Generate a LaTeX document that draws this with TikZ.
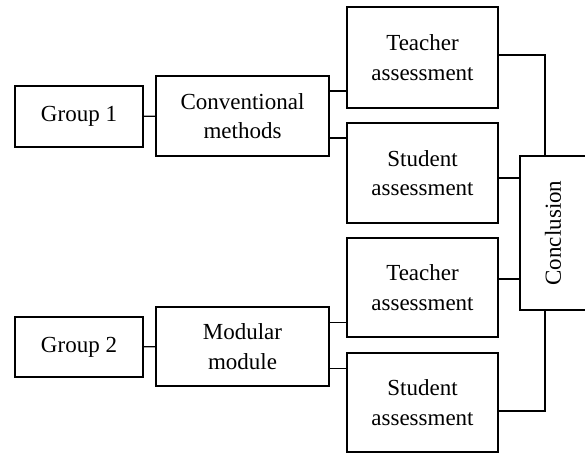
\documentclass[tikz,border=0pt]{standalone}
\usepackage{fontspec}
\setmainfont{Liberation Serif}
\begin{document}
\begin{tikzpicture}[x=1pt,y=1pt,
  box/.style={draw,line width=1.3pt,inner sep=0pt,align=center,
    font=\fontsize{23}{29.5}\selectfont},
  conn/.style={line width=1.3pt}]
\useasboundingbox (0,0) rectangle (585,454);
\node[box,minimum width=128,minimum height=61] (g1) at (79,337.5) {Group 1};
\node[box,minimum width=173,minimum height=80] (c1) at (242.5,338) {Conventional\\methods};
\node[box,minimum width=151,minimum height=101] (t1) at (422.5,396.5) {Teacher\\assessment};
\node[box,minimum width=151,minimum height=100] (s1) at (422.5,281) {Student\\assessment};
\node[box,minimum width=151,minimum height=99] (t2) at (422.5,166.5) {Teacher\\assessment};
\node[box,minimum width=151,minimum height=99] (s2) at (422.5,51.5) {Student\\assessment};
\node[box,minimum width=128,minimum height=60] (g2) at (79,107) {Group 2};
\node[box,minimum width=173,minimum height=79] (m2) at (242.5,107.5) {Modular\\module};
\node[box,minimum width=154,minimum height=66,rotate=90] (cc) at (553,221) {Conclusion};
\coordinate (j) at (545,0);
\draw[conn] (g1) -- (c1);
\draw[conn] (g2) -- (m2);
\draw[conn] ([yshift=25]c1.east) -- ([yshift=25]c1.east -| t1.west);
\draw[conn] ([yshift=-22]c1.east) -- ([yshift=-22]c1.east -| s1.west);
\draw[conn] ([yshift=24]m2.east) -- ([yshift=24]m2.east -| t2.west);
\draw[conn] ([yshift=-22]m2.east) -- ([yshift=-22]m2.east -| s2.west);
\draw[conn] ([yshift=2.5]t1.east) -| (j |- cc.east);
\draw[conn] ([yshift=-5]s1.east) -- ([yshift=-5]s1.east -| cc.north);
\draw[conn] ([yshift=8.5]t2.east) -- ([yshift=8.5]t2.east -| cc.north);
\draw[conn] ([yshift=-8.5]s2.east) -| (j |- cc.west);
\end{tikzpicture}
\end{document}
